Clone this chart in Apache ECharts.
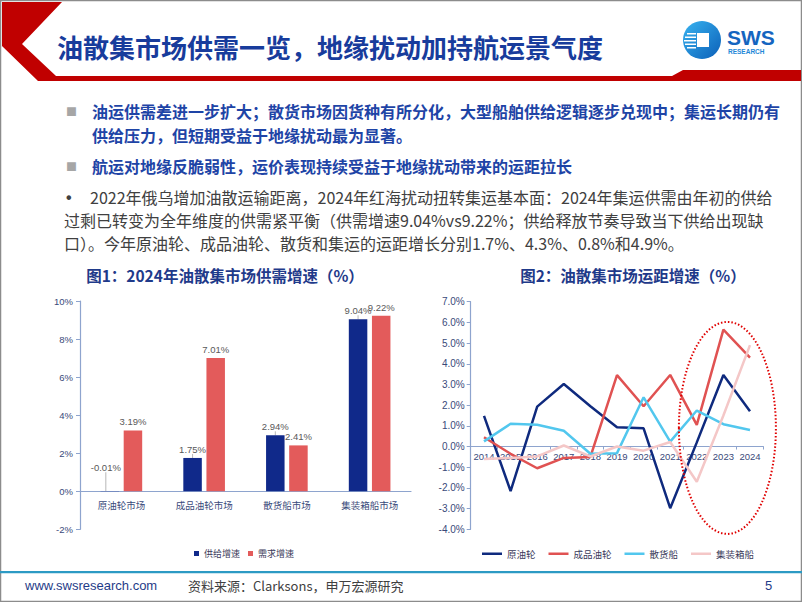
<!DOCTYPE html>
<html><head><meta charset="utf-8">
<script src="https://cdn.jsdelivr.net/npm/echarts@6/dist/echarts.min.js"></script>
<style>html,body{margin:0;padding:0;background:#fff}#c{width:802px;height:602px}</style>
</head><body><div id="c"></div>
<script>
// ---- data ----
var barCategories = ['原油轮市场', '成品油轮市场', '散货船市场', '集装箱船市场'];
var supplyGrowth = [-0.01, 1.75, 2.94, 9.04];
var demandGrowth = [3.19, 7.01, 2.41, 9.22];
var years = ['2014','2015','2016','2017','2018','2019','2020','2021','2022','2023','2024'];
var crudeTanker   = [1.48, -2.15, 1.93, 3.02, 1.95, 0.93, 0.88, -2.98, 0.2, 3.46, 1.7];
var productTanker = [0.45, -0.35, -1.05, -0.55, -0.5, 3.45, 1.95, 3.46, 1.05, 5.65, 4.3];
var bulkCarrier   = [0.25, 1.1, 1.05, 0.76, -0.35, -0.32, 2.38, 0.24, 1.74, 1.08, 0.8];
var containerShip = [-0.6, -0.55, -0.48, 0.05, -0.48, 0.0, -0.2, 0.22, -1.7, 1.5, 4.9];

var CJK = '"Noto Sans CJK SC", "Liberation Sans", sans-serif';
var ARIAL = '"Liberation Sans", Arial, "Noto Sans CJK SC", sans-serif';
var axisColor = '#8EA4CE';
var lblColor = '#3A4A7A';

// axis ranges and grid boxes
var leftMin = -2, leftMax = 10, rightMin = -4, rightMax = 7;
var gridL = {left: 80, top: 301, width: 331, height: 228.3};
var gridR = {left: 470.7, top: 301.7, width: 292.6, height: 227.6};
// lift category axes to the zero line of their value axis
var offL = -gridL.height * (0 - leftMin) / (leftMax - leftMin);
var offR = -gridR.height * (0 - rightMin) / (rightMax - rightMin);

var chart = echarts.init(document.getElementById('c'), null, {renderer: 'svg'});

function txt(text, x, y, font, fill, align) {
  return {type: 'text', x: x, y: y, z: 10, style: {text: text, font: font, fill: fill, align: align || 'left', verticalAlign: 'middle'}};
}

var graphics = [
  {type: 'rect', shape: {x: 0.5, y: 0.5, width: 801, height: 601}, style: {fill: 'none', stroke: '#8C8C8C', lineWidth: 1.5}, z: 1},
  {type: 'polygon', shape: {points: [[2,2],[62,2],[22,44],[56,76],[672,76],[683,70],[801,70],[801,81],[38,81],[2,46]]}, style: {fill: '#C00000'}, z: 2},
  txt('油散集市场供需一览，地缘扰动加持航运景气度', 57, 46, 'bold 26px ' + CJK, '#183C9C'),
  {type: 'circle', shape: {cx: 702, cy: 40, r: 19}, style: {fill: new echarts.graphic.LinearGradient(0, 0, 1, 1, [{offset: 0, color: '#38B3F0'}, {offset: 1, color: '#0B5FB8'}])}, z: 3},
  {type: 'rect', shape: {x: 697, y: 33, width: 12, height: 14}, style: {fill: '#fff'}, z: 4},
  {type: 'rect', shape: {x: 687, y: 33, width: 9, height: 1.5}, style: {fill: '#fff'}, z: 4},
  {type: 'rect', shape: {x: 685, y: 36.5, width: 11, height: 1.5}, style: {fill: '#fff'}, z: 4},
  {type: 'rect', shape: {x: 684, y: 40, width: 12, height: 1.5}, style: {fill: '#fff'}, z: 4},
  {type: 'rect', shape: {x: 685, y: 43.5, width: 11, height: 1.5}, style: {fill: '#fff'}, z: 4},
  {type: 'rect', shape: {x: 687, y: 47, width: 9, height: 1.5}, style: {fill: '#fff'}, z: 4},
  txt('SWS', 727, 37, 'bold 21px ' + ARIAL, '#1565C0'),
  txt('RESEARCH', 728, 51, 'bold 6.5px ' + ARIAL, '#1E88D8'),
  txt('■', 66, 111, '11px ' + CJK, '#A6A6A6'),
  txt('油运供需差进一步扩大；散货市场因货种有所分化，大型船舶供给逻辑逐步兑现中；集运长期仍有', 92, 111, 'bold 16px ' + CJK, '#1E44A6'),
  txt('供给压力，但短期受益于地缘扰动最为显著。', 92, 135, 'bold 16px ' + CJK, '#1E44A6'),
  txt('■', 66, 166, '11px ' + CJK, '#A6A6A6'),
  txt('航运对地缘反脆弱性，运价表现持续受益于地缘扰动带来的运距拉长', 92, 166, 'bold 16px ' + CJK, '#1E44A6'),
  txt('•', 66, 197, 'bold 16px ' + ARIAL, '#404040'),
  txt('2022年俄乌增加油散运输距离，2024年红海扰动扭转集运基本面：2024年集运供需由年初的供给', 90, 197, '16px ' + CJK, '#404040'),
  txt('过剩已转变为全年维度的供需紧平衡（供需增速9.04%vs9.22%；供给释放节奏导致当下供给出现缺', 64, 220, '16px ' + CJK, '#404040'),
  txt('口）。今年原油轮、成品油轮、散货和集运的运距增长分别1.7%、4.3%、0.8%和4.9%。', 64, 243, '16px ' + CJK, '#404040'),
  txt('图1：2024年油散集市场供需增速（%）', 225, 275, 'bold 15.5px ' + CJK, '#1F3A8A', 'center'),
  txt('图2：油散集市场运距增速（%）', 633, 275, 'bold 15.5px ' + CJK, '#1F3A8A', 'center'),
  {type: 'rect', shape: {x: 0, y: 571, width: 802, height: 2.2}, style: {fill: '#2C9AC4'}, z: 3},
  txt('www.swsresearch.com', 25, 585, '13px ' + ARIAL, '#1F3C88'),
  txt('资料来源：Clarksons，申万宏源研究', 188, 585, '13px ' + CJK, '#404040'),
  txt('5', 765, 585, '13px ' + ARIAL, '#1F3C88')
];

var option = {
  animation: false,
  backgroundColor: '#fff',
  textStyle: {fontFamily: ARIAL},
  grid: [gridL, gridR],
  xAxis: [
    {gridIndex: 0, type: 'category', data: barCategories, offset: offL,
     axisLine: {onZero: false, lineStyle: {color: axisColor, width: 1.2}},
     axisTick: {show: false},
     axisLabel: {margin: 9, fontSize: 9.5, color: lblColor, fontFamily: CJK, interval: 0}},
    {gridIndex: 1, type: 'category', data: years, boundaryGap: true, offset: offR,
     axisLine: {onZero: false, lineStyle: {color: axisColor, width: 1.2}},
     axisTick: {show: true, length: 3, lineStyle: {color: axisColor}},
     axisLabel: {margin: 5, fontSize: 9.5, color: lblColor, interval: 0}}
  ],
  yAxis: [
    {gridIndex: 0, type: 'value', min: leftMin, max: leftMax, interval: 2,
     axisLine: {show: true, lineStyle: {color: axisColor, width: 1.2}},
     axisTick: {show: true, length: 4, lineStyle: {color: axisColor}},
     splitLine: {show: false},
     axisLabel: {formatter: '{value}%', fontSize: 9.5, color: lblColor, margin: 7}},
    {gridIndex: 1, type: 'value', min: rightMin, max: rightMax, interval: 1,
     axisLine: {show: true, lineStyle: {color: axisColor, width: 1.2}},
     axisTick: {show: true, length: 4, lineStyle: {color: axisColor}},
     splitLine: {show: false},
     axisLabel: {formatter: function (v) { return v.toFixed(1) + '%'; }, fontSize: 10, color: lblColor, margin: 6}}
  ],
  legend: [
    {data: ['供给增速', '需求增速'], left: 189, top: 544, icon: 'rect', itemWidth: 5, itemHeight: 5, itemGap: 8,
     textStyle: {fontSize: 9, color: '#3A3A5A', fontFamily: CJK}},
    {data: ['原油轮', '成品油轮', '散货船', '集装箱船'], left: 477, top: 544, icon: 'rect', itemWidth: 20, itemHeight: 2.5, itemGap: 13,
     textStyle: {fontSize: 9.5, color: '#3A3A5A', fontFamily: CJK}}
  ],
  series: [
    {name: '供给增速', type: 'bar', xAxisIndex: 0, yAxisIndex: 0, data: supplyGrowth,
     barWidth: 18.5, barGap: '25%', itemStyle: {color: '#10298A'},
     label: {show: true, position: 'top', distance: 4, fontSize: 9.5, color: '#595959', formatter: function (p) { return p.value.toFixed(2) + '%'; }},
     labelLayout: function (p) { return p.dataIndex === 0 ? {dx: -4, dy: -15} : {}; },
     labelLine: {show: true, length2: 0, lineStyle: {color: '#A6A6A6', width: 0.8}}},
    {name: '需求增速', type: 'bar', xAxisIndex: 0, yAxisIndex: 0, data: demandGrowth,
     barWidth: 18.5, barGap: '25%', itemStyle: {color: '#E35B5B'},
     label: {show: true, position: 'top', distance: 4, fontSize: 9.5, color: '#595959', formatter: function (p) { return p.value.toFixed(2) + '%'; }}},
    {name: '原油轮', type: 'line', xAxisIndex: 1, yAxisIndex: 1, data: crudeTanker, symbol: 'none',
     lineStyle: {width: 2.5, color: '#0F2A7E'}, itemStyle: {color: '#0F2A7E'}},
    {name: '成品油轮', type: 'line', xAxisIndex: 1, yAxisIndex: 1, data: productTanker, symbol: 'none',
     lineStyle: {width: 2.5, color: '#E05252'}, itemStyle: {color: '#E05252'}},
    {name: '散货船', type: 'line', xAxisIndex: 1, yAxisIndex: 1, data: bulkCarrier, symbol: 'none',
     lineStyle: {width: 2.5, color: '#52C7EE'}, itemStyle: {color: '#52C7EE'}},
    {name: '集装箱船', type: 'line', xAxisIndex: 1, yAxisIndex: 1, data: containerShip, symbol: 'none',
     lineStyle: {width: 2.5, color: '#F4C7C7'}, itemStyle: {color: '#F4C7C7'}}
  ],
  graphic: graphics
};
chart.setOption(option);

// dotted highlight ellipse around 2022-2024, anchored through the axis scale
var c = chart.convertToPixel({gridIndex: 1}, [9, 0.9]);
chart.setOption({graphic: graphics.concat([
  {type: 'ellipse', shape: {cx: c[0] + 4, cy: c[1], rx: 48.5, ry: 106}, z: 20,
   style: {fill: 'none', stroke: '#E00000', lineWidth: 2, lineDash: [1.5, 2]}}
])});
</script>
</body></html>
